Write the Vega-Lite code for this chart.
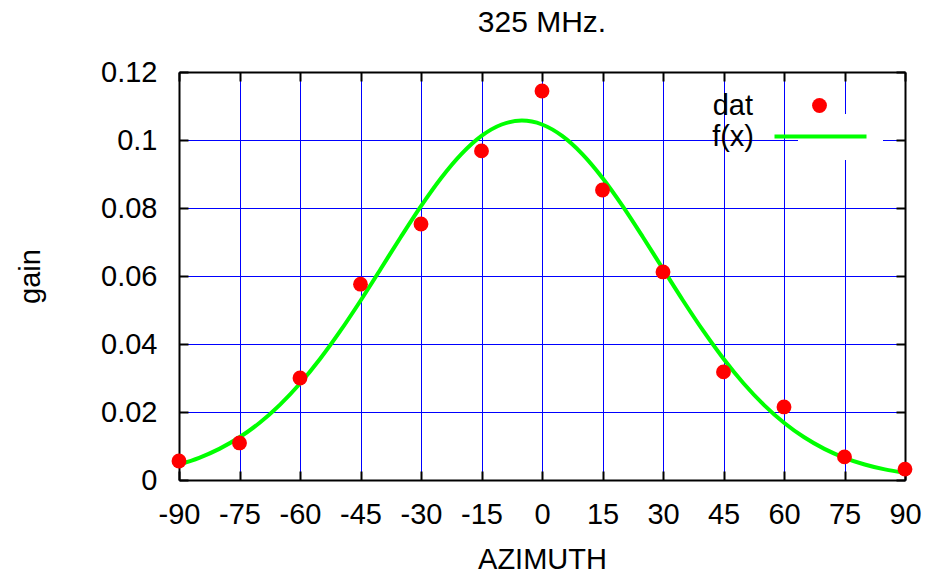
{
  "$schema": "https://vega.github.io/schema/vega-lite/v6.json",
  "width": 726,
  "height": 408,
  "autosize": "none",
  "padding": {"left": 179, "top": 72, "right": 26, "bottom": 95},
  "background": "white",
  "config": {
    "font": "Liberation Sans",
    "view": {"stroke": null},
    "legend": {"padding": 0}
  },
  "title": {
    "text": "325 MHz.",
    "fontSize": 30,
    "fontWeight": "normal",
    "font": "Liberation Sans",
    "color": "black",
    "anchor": "middle",
    "baseline": "alphabetic",
    "offset": -4
  },
  "datasets": {
    "dat": [
      {"azimuth": -90, "gain": 0.0056},
      {"azimuth": -75, "gain": 0.0109},
      {"azimuth": -60, "gain": 0.0300},
      {"azimuth": -45, "gain": 0.0576},
      {"azimuth": -30, "gain": 0.0753},
      {"azimuth": -15, "gain": 0.0968},
      {"azimuth": 0, "gain": 0.1144},
      {"azimuth": 15, "gain": 0.0853},
      {"azimuth": 30, "gain": 0.0612},
      {"azimuth": 45, "gain": 0.0318},
      {"azimuth": 60, "gain": 0.0215},
      {"azimuth": 75, "gain": 0.0068},
      {"azimuth": 90, "gain": 0.0032}
    ],
    "fx": [
      {"azimuth": -90, "gain": 0.00457},
      {"azimuth": -85, "gain": 0.00654},
      {"azimuth": -80, "gain": 0.00916},
      {"azimuth": -75, "gain": 0.01256},
      {"azimuth": -70, "gain": 0.01684},
      {"azimuth": -65, "gain": 0.02210},
      {"azimuth": -60, "gain": 0.02837},
      {"azimuth": -55, "gain": 0.03565},
      {"azimuth": -50, "gain": 0.04383},
      {"azimuth": -45, "gain": 0.05272},
      {"azimuth": -40, "gain": 0.06206},
      {"azimuth": -35, "gain": 0.07147},
      {"azimuth": -30, "gain": 0.08055},
      {"azimuth": -25, "gain": 0.08883},
      {"azimuth": -20, "gain": 0.09585},
      {"azimuth": -15, "gain": 0.10120},
      {"azimuth": -10, "gain": 0.10456},
      {"azimuth": -5, "gain": 0.10570},
      {"azimuth": 0, "gain": 0.10456},
      {"azimuth": 5, "gain": 0.10120},
      {"azimuth": 10, "gain": 0.09585},
      {"azimuth": 15, "gain": 0.08883},
      {"azimuth": 20, "gain": 0.08055},
      {"azimuth": 25, "gain": 0.07147},
      {"azimuth": 30, "gain": 0.06206},
      {"azimuth": 35, "gain": 0.05272},
      {"azimuth": 40, "gain": 0.04383},
      {"azimuth": 45, "gain": 0.03565},
      {"azimuth": 50, "gain": 0.02837},
      {"azimuth": 55, "gain": 0.02210},
      {"azimuth": 60, "gain": 0.01684},
      {"azimuth": 65, "gain": 0.01256},
      {"azimuth": 70, "gain": 0.00916},
      {"azimuth": 75, "gain": 0.00654},
      {"azimuth": 80, "gain": 0.00457},
      {"azimuth": 85, "gain": 0.00312},
      {"azimuth": 90, "gain": 0.00209}
    ]
  },
  "layer": [
    {
      "data": {"name": "fx"},
      "mark": {"type": "line", "strokeWidth": 4, "interpolate": "monotone", "clip": true},
      "encoding": {
        "x": {
          "field": "azimuth", "type": "quantitative",
          "scale": {"domain": [-90, 90], "nice": false, "zero": false},
          "axis": {
            "orient": "top", "values": [-90, -75, -60, -45, -30, -15, 0, 15, 30, 45, 60, 75, 90],
            "labels": false, "title": null, "grid": false,
            "domain": true, "domainColor": "black", "domainWidth": 2,
            "ticks": true, "tickSize": -9, "tickColor": "black", "tickWidth": 2
          }
        },
        "y": {
          "field": "gain", "type": "quantitative",
          "scale": {"domain": [0, 0.12], "nice": false},
          "axis": {
            "orient": "right", "values": [0, 0.02, 0.04, 0.06, 0.08, 0.1, 0.12],
            "labels": false, "title": null, "grid": false,
            "domain": true, "domainColor": "black", "domainWidth": 2,
            "ticks": true, "tickSize": -9, "tickColor": "black", "tickWidth": 2
          }
        },
        "stroke": {
          "datum": "f(x)",
          "type": "nominal",
          "scale": {"domain": ["f(x)"], "range": ["#00ff00"]},
          "legend": {
            "title": null,
            "orient": "none",
            "legendX": 619,
            "legendY": 42,
            "symbolType": "M-4,0H4",
            "symbolSize": 529,
            "symbolStrokeWidth": 4,
            "labelFontSize": 29,
            "labelFont": "Liberation Sans",
            "labelColor": "black",
            "labelAlign": "right",
            "labelOffset": -81,
            "fillColor": "white",
            "padding": 8
          }
        }
      }
    },
    {
      "data": {"name": "dat"},
      "mark": {"type": "point", "filled": true, "size": 220, "opacity": 1},
      "encoding": {
        "x": {
          "field": "azimuth", "type": "quantitative",
          "axis": {
            "orient": "bottom", "values": [-90, -75, -60, -45, -30, -15, 0, 15, 30, 45, 60, 75, 90],
            "labelExpr": "'' + datum.value", "labelOverlap": false, "labelFlush": false,
            "title": "AZIMUTH", "titleFontSize": 29, "titleFontWeight": "normal", "titleFont": "Liberation Sans", "titleColor": "black", "titlePadding": 16,
            "labelFontSize": 29, "labelFont": "Liberation Sans", "labelColor": "black", "labelPadding": 29,
            "grid": true, "gridColor": "#0000ff", "gridWidth": 1, "gridOpacity": 1,
            "domain": true, "domainColor": "black", "domainWidth": 2,
            "ticks": true, "tickSize": -9, "tickColor": "black", "tickWidth": 2
          }
        },
        "y": {
          "field": "gain", "type": "quantitative",
          "axis": {
            "orient": "left", "values": [0, 0.02, 0.04, 0.06, 0.08, 0.1, 0.12],
            "labelExpr": "'' + datum.value", "labelOverlap": false, "labelFlush": false,
            "title": "gain", "titleFontSize": 29, "titleFontWeight": "normal", "titleFont": "Liberation Sans", "titleColor": "black", "titlePadding": 55,
            "labelFontSize": 29, "labelFont": "Liberation Sans", "labelColor": "black", "labelPadding": 31,
            "grid": true, "gridColor": "#0000ff", "gridWidth": 1, "gridOpacity": 1,
            "domain": true, "domainColor": "black", "domainWidth": 2,
            "ticks": true, "tickSize": -9, "tickColor": "black", "tickWidth": 2
          }
        },
        "fill": {
          "datum": "dat",
          "type": "nominal",
          "scale": {"domain": ["dat"], "range": ["#ff0000"]},
          "legend": {
            "title": null,
            "orient": "none",
            "legendX": 618,
            "legendY": 11,
            "symbolType": "circle",
            "symbolSize": 220,
            "symbolStrokeWidth": 0,
            "labelFontSize": 29,
            "labelFont": "Liberation Sans",
            "labelColor": "black",
            "labelAlign": "right",
            "labelOffset": -81,
            "fillColor": "white",
            "padding": 8
          }
        }
      }
    }
  ],
  "resolve": {
    "axis": {"x": "independent", "y": "independent"},
    "scale": {"stroke": "independent", "fill": "independent"},
    "legend": {"stroke": "independent", "fill": "independent"}
  }
}
